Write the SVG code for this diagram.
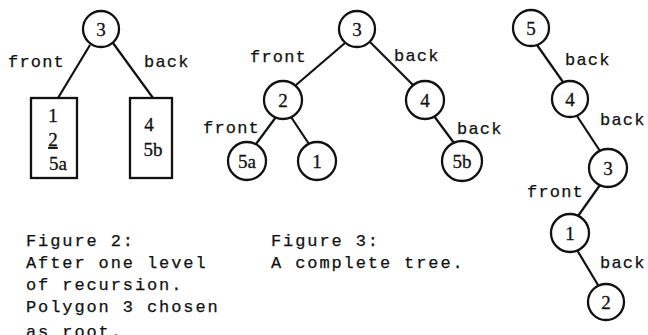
<svg xmlns="http://www.w3.org/2000/svg" width="648" height="335" viewBox="0 0 648 335">
<style>
.n{fill:#fff;stroke:#111;stroke-width:2.3}
.e{stroke:#111;stroke-width:2.2;fill:none}
.d{font-family:"Liberation Serif",serif;font-size:19px;fill:#111;stroke:#111;stroke-width:0.3;text-anchor:middle}
.l{font-family:"Liberation Mono",monospace;font-size:17px;fill:#111;stroke:#111;stroke-width:0.25;letter-spacing:1.2px}
.c{font-family:"Liberation Mono",monospace;font-size:17px;fill:#111;stroke:#111;stroke-width:0.25;letter-spacing:1.9px}
</style>
<rect width="648" height="335" fill="#fff"/>
<g id="connectors">
<line class="e" x1="90" y1="45" x2="58" y2="98"/>
<line class="e" x1="113" y1="43" x2="153" y2="98"/>
<line class="e" x1="345" y1="43" x2="296" y2="85"/>
<line class="e" x1="370" y1="42" x2="413" y2="85"/>
<line class="e" x1="276" y1="117" x2="256" y2="144"/>
<line class="e" x1="291" y1="117" x2="309" y2="144"/>
<line class="e" x1="434" y1="116" x2="454" y2="143"/>
<line class="e" x1="537" y1="45" x2="563" y2="82"/>
<line class="e" x1="577" y1="116" x2="600" y2="151"/>
<line class="e" x1="600" y1="185" x2="578" y2="216"/>
<line class="e" x1="577" y1="250" x2="598" y2="285"/>
</g>
<g id="fig2-root"><circle class="n" cx="101" cy="29" r="18"/><text class="d" x="101" y="36">3</text></g>
<g id="fig2-front-box"><rect class="n" x="31" y="98" width="46" height="80"/><text class="d" x="53" y="122">1</text><text class="d" x="53" y="146" text-decoration="underline">2</text><text class="d" x="58" y="170">5a</text></g>
<g id="fig2-back-box"><rect class="n" x="130" y="98" width="42" height="80"/><text class="d" x="149" y="131">4</text><text class="d" x="153" y="156">5b</text></g>
<g id="fig2-labels"><text class="l" x="8" y="67">front</text><text class="l" x="144" y="67">back</text></g>
<g id="fig3-n3"><circle class="n" cx="357" cy="29" r="18"/><text class="d" x="357" y="36">3</text></g>
<g id="fig3-n2"><circle class="n" cx="283" cy="100" r="19"/><text class="d" x="283" y="107">2</text></g>
<g id="fig3-n4"><circle class="n" cx="425" cy="100" r="19"/><text class="d" x="425" y="107">4</text></g>
<g id="fig3-n5a"><circle class="n" cx="247" cy="161" r="19"/><text class="d" x="247" y="168">5a</text></g>
<g id="fig3-n1"><circle class="n" cx="317" cy="161" r="19"/><text class="d" x="317" y="168">1</text></g>
<g id="fig3-n5b"><circle class="n" cx="462" cy="161" r="20"/><text class="d" x="462" y="168">5b</text></g>
<g id="fig3-labels"><text class="l" x="250" y="62">front</text><text class="l" x="394" y="61">back</text><text class="l" x="203" y="133">front</text><text class="l" x="457" y="134">back</text></g>
<g id="fig4-n5"><circle class="n" cx="531" cy="28" r="18"/><text class="d" x="531" y="35">5</text></g>
<g id="fig4-n4"><circle class="n" cx="570" cy="99" r="18"/><text class="d" x="570" y="106">4</text></g>
<g id="fig4-n3"><circle class="n" cx="608" cy="168" r="19"/><text class="d" x="608" y="175">3</text></g>
<g id="fig4-n1"><circle class="n" cx="570" cy="233" r="19"/><text class="d" x="570" y="240">1</text></g>
<g id="fig4-n2"><circle class="n" cx="606" cy="302" r="18"/><text class="d" x="606" y="309">2</text></g>
<g id="fig4-labels"><text class="l" x="565" y="65">back</text><text class="l" x="600" y="125">back</text><text class="l" x="527" y="197">front</text><text class="l" x="600" y="268">back</text></g>
<g id="captions">
<text class="c" x="26" y="246">Figure 2:</text>
<text class="c" x="26" y="268">After one level</text>
<text class="c" x="26" y="290">of recursion.</text>
<text class="c" x="26" y="312">Polygon 3 chosen</text>
<text class="c" x="26" y="337">as root.</text>
<text class="c" x="271" y="246">Figure 3:</text>
<text class="c" x="271" y="268">A complete tree.</text>
</g>
</svg>
